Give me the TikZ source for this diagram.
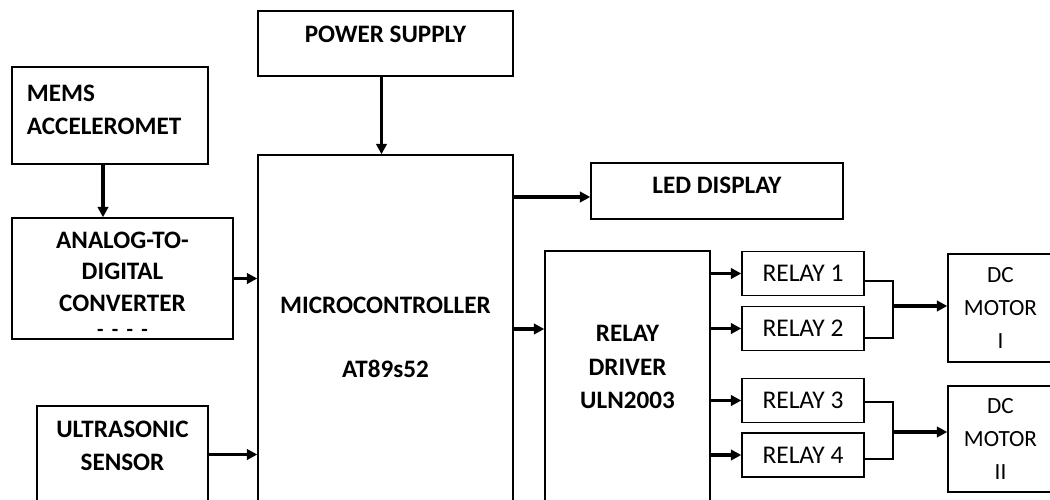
\documentclass[tikz,border=0pt]{standalone}
\usepackage{fontspec}
\setmainfont{Carlito}
\usetikzlibrary{arrows.meta,positioning}

\begin{document}
\begin{tikzpicture}[x=0.2mm, y=-0.2mm,
    box/.style={rectangle, draw=black, line width=0.8pt, align=center, inner sep=0pt,
      font=\fontsize{14.3}{19}\selectfont\bfseries},
    rly/.style={box, minimum width=24.4mm, minimum height=8.8mm, font=\fontsize{14.5}{19}\selectfont},
    mot/.style={box, minimum width=21mm, font=\fontsize{13.2}{19}\selectfont},
    arr/.style={-{Triangle[length=6pt,width=6pt]}, line width=2pt},
    wire/.style={line width=0.8pt}
  ]
    \useasboundingbox (0,0) rectangle (1050,500);
    \clip (0,0) rectangle (1050,500);

    \node[box, minimum width=51mm, minimum height=13mm, text depth=10pt] (power) at (385.5,43.5) {POWER SUPPLY};
    \node[box, minimum height=19.4mm, text width=33.2mm, inner xsep=3mm, align=left, text depth=25.7pt]
                                                          (mems)  at (110,115.5)  {MEMS\\ACCELEROMET};
    \node[box, minimum width=44.2mm, minimum height=24.2mm, text width=40mm, text height=15.6pt,
          font=\fontsize{14.3}{18}\selectfont\bfseries] (adc) at (122.5,278.5)
      {ANALOG-TO-\\DIGITAL\\CONVERTER\\[-4pt]{\fontsize{12}{12}\selectfont- - - -}};
    \node[box, minimum width=34.2mm, minimum height=19.4mm, text depth=10pt] (ultra) at (122.5,454.5) {ULTRASONIC\\SENSOR};
    \node[box, minimum width=51mm, minimum height=69.6mm, text width=46mm, text height=18.9pt] (mcu) at (385.5,329)
      {MICROCONTROLLER\\[17pt]AT89s52};
    \node[box, minimum width=50.4mm, minimum height=11.2mm, text depth=7pt]  (led) at (717,191) {LED DISPLAY};
    \node[box, minimum width=33mm, minimum height=50.4mm, text depth=11.5pt] (drv) at (627.5,377) {RELAY\\DRIVER\\ULN2003};

    \node[rly] (rly1) at (803,273.5) {RELAY 1};
    \node[rly] (rly2) at (803,328.5) {RELAY 2};
    \node[rly] (rly3) at (803,400.5) {RELAY 3};
    \node[rly] (rly4) at (803,455)   {RELAY 4};

    \node[mot, minimum height=21.6mm] (mot1) at (1000.5,308) {DC\\MOTOR\\I};
    \node[mot, minimum height=21.2mm] (mot2) at (1000.5,439) {DC\\MOTOR\\II};

    % inputs to the controller
    \draw[arr] ([xshift=-0.8mm]power.south) -- ([xshift=-0.8mm]mcu.north);
    \draw[arr] ([xshift=-1.4mm]mems.south) -- ([xshift=-3.9mm]adc.north);
    \draw[arr] (adc.east) -- (adc.east -| mcu.west);
    \draw[arr] (ultra.east) -- (ultra.east -| mcu.west);

    % outputs
    \coordinate (ledin) at ([yshift=-1.2mm]led.west);
    \draw[arr] (ledin -| mcu.east) -- (ledin);
    \draw[arr] (mcu.east) -- (mcu.east -| drv.west);
    \foreach \i in {1,...,4}
      \draw[arr] (drv.east |- rly\i.west) -- (rly\i.west);

    % relay pairs to motors
    \coordinate (j1) at (893,306);
    \coordinate (j2) at (893,432);
    \draw[wire] ([yshift=-1.5mm]rly1.east) -| (j1) |- ([yshift=-1.9mm]rly2.east);
    \draw[wire] ([yshift=-0.3mm]rly3.east) -| (j2) |- ([yshift=-0.8mm]rly4.east);
    \draw[arr] (j1) -- (j1 -| mot1.west);
    \draw[arr] (j2) -- (j2 -| mot2.west);
\end{tikzpicture}
\end{document}
